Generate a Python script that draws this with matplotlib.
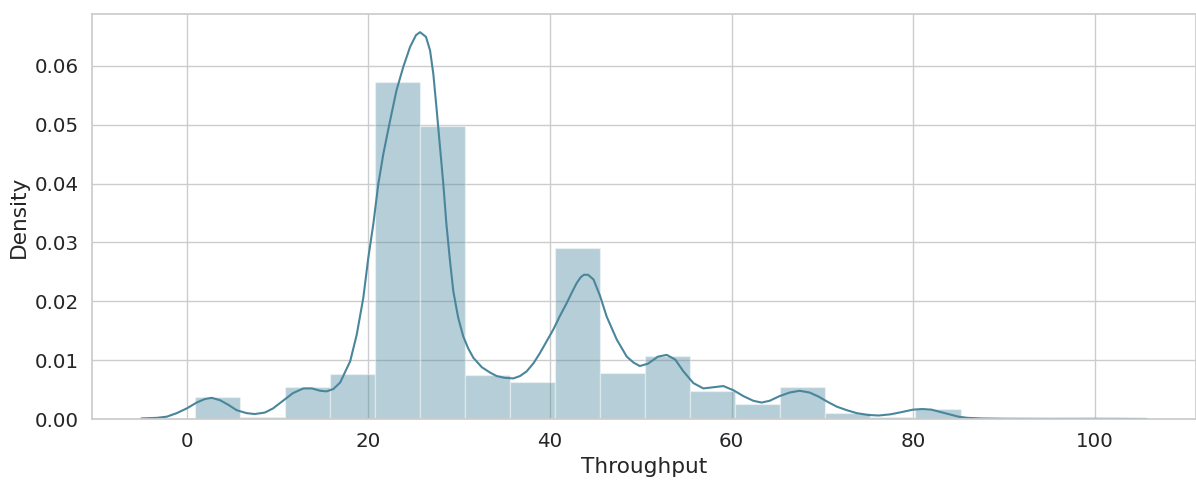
import numpy as np
import matplotlib
matplotlib.use("Agg")
import matplotlib.pyplot as plt
import seaborn as sns

# histogram (density)
bin_edges = [0.9, 5.86, 10.82, 15.78, 20.74, 25.7, 30.66, 35.62, 40.58, 45.54, 50.5,
             55.46, 60.42, 65.38, 70.34, 75.3, 80.26, 85.22, 90.18, 95.14, 100.1]
bin_density = [0.0037, 0.0004, 0.0055, 0.0077, 0.0573, 0.0498, 0.0074, 0.0063, 0.0290, 0.0078,
               0.0107, 0.0047, 0.0025, 0.0054, 0.0010, 0.0003, 0.0017, 0.0, 0.0, 0.0001]

# kde curve
kde_x = [-5.0, -3.3, -2.2, -1.1, 0.0, 1.1, 2.0, 2.75, 3.67, 4.6, 5.5, 6.6, 7.5, 8.6, 9.5,
         10.6, 11.7, 12.85, 13.8, 14.7, 15.4, 16.15, 16.9, 17.6, 18.0, 18.72, 19.45, 20.0,
         20.55, 21.1, 21.65, 22.4, 23.1, 23.85, 24.6, 25.25, 25.7, 26.35, 26.8, 27.16, 27.5,
         27.9, 28.26, 28.6, 29.0, 29.36, 29.9, 30.46, 31.0, 31.57, 32.5, 33.4, 34.14, 35.0,
         35.97, 36.7, 37.44, 38.2, 38.9, 39.6, 40.37, 41.1, 41.85, 42.45, 42.95, 43.4, 43.75,
         44.2, 44.8, 45.5, 46.25, 47.36, 48.46, 49.2, 49.9, 50.8, 51.9, 52.86, 53.8, 54.7,
         55.8, 56.9, 58.0, 59.1, 60.2, 61.3, 62.4, 63.3, 64.2, 65.3, 66.4, 67.5, 68.6, 69.6,
         70.6, 71.6, 72.7, 73.8, 75.0, 76.2, 77.5, 78.8, 80.0, 81.0, 82.0, 83.0, 84.0, 85.0,
         86.0, 87.5, 90.0, 95.0, 100.0, 103.0, 105.7]
kde_y = [0.0001, 0.0002, 0.0004, 0.0010, 0.0018, 0.0028, 0.0034, 0.0036, 0.0032, 0.0024,
         0.0015, 0.0010, 0.00085, 0.0011, 0.0018, 0.0031, 0.0044, 0.0052, 0.0052, 0.0048,
         0.0047, 0.0051, 0.0062, 0.0085, 0.0098, 0.0143, 0.0206, 0.0274, 0.0331, 0.0399,
         0.0450, 0.0507, 0.0558, 0.0598, 0.0632, 0.0652, 0.0657, 0.0649, 0.0626, 0.0586,
         0.0530, 0.0461, 0.0399, 0.0331, 0.0268, 0.0217, 0.0172, 0.0140, 0.0120, 0.0104,
         0.0088, 0.0079, 0.0073, 0.0070, 0.0069, 0.0073, 0.0081, 0.0095, 0.0112, 0.0131,
         0.0152, 0.0175, 0.0197, 0.0216, 0.0231, 0.0241, 0.0245, 0.0245, 0.0237, 0.0210,
         0.0174, 0.0135, 0.0106, 0.0096, 0.0090, 0.0094, 0.0106, 0.0109, 0.0101, 0.0081,
         0.0061, 0.0052, 0.0054, 0.0056, 0.0049, 0.0039, 0.0031, 0.0028, 0.0031, 0.0039,
         0.0045, 0.0048, 0.0045, 0.0038, 0.0029, 0.0021, 0.0015, 0.0010, 0.0007, 0.0006,
         0.0008, 0.0012, 0.0016, 0.0017, 0.0016, 0.0012, 0.0008, 0.0004, 0.0002, 0.0001,
         0.00005, 0.00003, 0.00004, 0.00003, 0.00001]

sns.set_theme(style="whitegrid", font_scale=1.3)
color = "#4a869b"

fig = plt.figure(figsize=(11.96, 4.8), dpi=100)
ax = fig.add_axes([0.0767, 0.127, 0.9229, 0.844])

edges = np.array(bin_edges)
ax.bar(edges[:-1], bin_density, width=np.diff(edges), align="edge",
       color=color, alpha=0.4, edgecolor="white", linewidth=1)
ax.plot(kde_x, kde_y, color=color, linewidth=1.5)

ax.set_xlim(-10.46, 111.1)
ax.set_ylim(0, 0.0688)
ax.set_xticks([0, 20, 40, 60, 80, 100])
ax.set_yticks([0, 0.01, 0.02, 0.03, 0.04, 0.05, 0.06])
ax.yaxis.set_major_formatter(matplotlib.ticker.FormatStrFormatter("%.2f"))
ax.set_xlabel("Throughput")
ax.set_ylabel("Density")

fig.savefig("out.png", dpi=100)
